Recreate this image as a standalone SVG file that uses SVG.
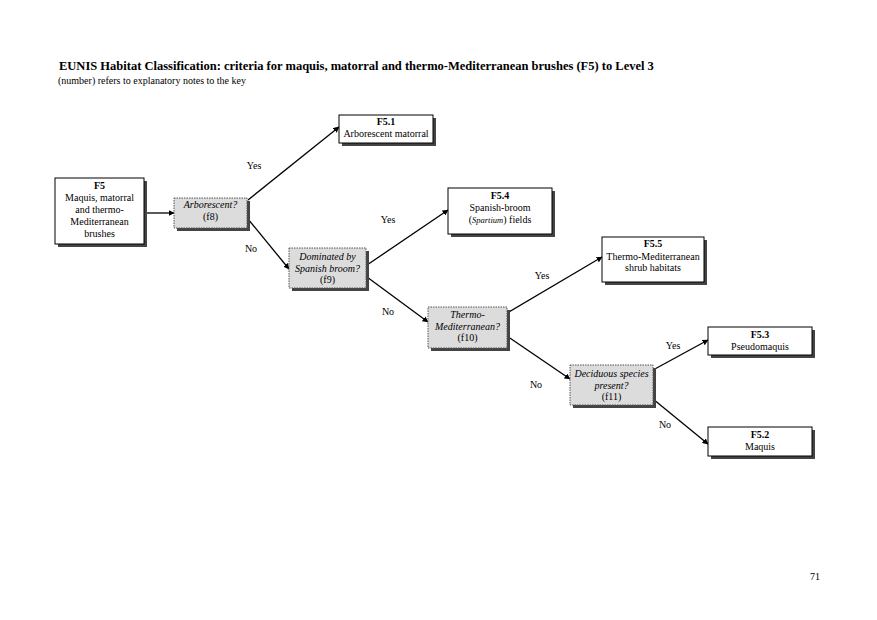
<svg xmlns="http://www.w3.org/2000/svg" width="877" height="620" viewBox="0 0 877 620">
<style>
text{font-family:"Liberation Serif","Times New Roman",serif;fill:#000}
.t{font-size:12.5px;font-weight:bold}
.s{font-size:10px}
.n{font-size:10px;text-anchor:middle}
.b{font-weight:bold}
.i{font-style:italic}
.lbl{font-size:10px;text-anchor:middle}
.box{fill:#fff;stroke:#000;stroke-width:1}
.q{fill:#dcdcdc;stroke:#555;stroke-width:1;stroke-dasharray:1.5 1}
.sh{fill:#444}
.c{stroke:#000;stroke-width:1.3;fill:none;marker-end:url(#a)}
</style>
<defs>
<marker id="a" viewBox="0 0 10 10" refX="9" refY="5" markerWidth="6" markerHeight="6" orient="auto" markerUnits="userSpaceOnUse">
<path d="M0,0 L10,5 L0,10 z" fill="#000"/>
</marker>
</defs>
<text class="t" x="59" y="70">EUNIS Habitat Classification: criteria for maquis, matorral and thermo-Mediterranean brushes (F5) to Level 3</text>
<text class="s" x="58" y="83.5">(number) refers to explanatory notes to the key</text>

<g id="connectors">
<line class="c" x1="147" y1="213" x2="174" y2="213"/>
<line class="c" x1="248" y1="200" x2="339" y2="127"/>
<line class="c" x1="248" y1="219" x2="289" y2="269"/>
<line class="c" x1="367" y1="265" x2="448" y2="210"/>
<line class="c" x1="367" y1="277" x2="428" y2="322"/>
<line class="c" x1="507" y1="313" x2="602" y2="257"/>
<line class="c" x1="507" y1="336" x2="570" y2="379"/>
<line class="c" x1="653" y1="370" x2="708" y2="340"/>
<line class="c" x1="653" y1="399" x2="708" y2="444"/>
<text class="lbl" x="254" y="169">Yes</text>
<text class="lbl" x="251" y="252">No</text>
<text class="lbl" x="388" y="223">Yes</text>
<text class="lbl" x="388" y="315">No</text>
<text class="lbl" x="542" y="279">Yes</text>
<text class="lbl" x="536" y="388">No</text>
<text class="lbl" x="673" y="349">Yes</text>
<text class="lbl" x="665" y="428">No</text>
</g>

<g id="F5">
<rect class="sh" x="58" y="181" width="89" height="66"/>
<rect class="box" x="55" y="178" width="89" height="66"/>
<text class="n b" x="99.5" y="188.5">F5</text>
<text class="n" x="99.5" y="201">Maquis, matorral</text>
<text class="n" x="99.5" y="213">and thermo-</text>
<text class="n" x="99.5" y="225">Mediterranean</text>
<text class="n" x="99.5" y="236.5">brushes</text>
</g>

<g id="q-f8">
<rect class="sh" x="177" y="201" width="73" height="30"/>
<rect class="q" x="174" y="198" width="73" height="30"/>
<text class="n i" x="210.5" y="208">Arborescent?</text>
<text class="n" x="210.5" y="220">(f8)</text>
</g>

<g id="F5.1">
<rect class="sh" x="342" y="118" width="94" height="28"/>
<rect class="box" x="339" y="115" width="94" height="28"/>
<text class="n b" x="386" y="124.5">F5.1</text>
<text class="n" x="386" y="136.5">Arborescent matorral</text>
</g>

<g id="q-f9">
<rect class="sh" x="292" y="251" width="77" height="40"/>
<rect class="q" x="289" y="248" width="77" height="40"/>
<text class="n i" x="327.5" y="259.5">Dominated by</text>
<text class="n i" x="327.5" y="271.5">Spanish broom?</text>
<text class="n" x="327.5" y="282.5">(f9)</text>
</g>

<g id="F5.4">
<rect class="sh" x="451" y="191" width="104" height="46"/>
<rect class="box" x="448" y="188" width="104" height="46"/>
<text class="n b" x="500" y="198.5">F5.4</text>
<text class="n" x="500" y="210.5">Spanish-broom</text>
<text class="n" x="500" y="222.5">(<tspan class="i" font-size="8.5">Spartium</tspan>) fields</text>
</g>

<g id="q-f10">
<rect class="sh" x="431" y="310" width="79" height="41"/>
<rect class="q" x="428" y="307" width="79" height="41"/>
<text class="n i" x="467.5" y="317.5">Thermo-</text>
<text class="n i" x="467.5" y="329.5">Mediterranean?</text>
<text class="n" x="467.5" y="340.5">(f10)</text>
</g>

<g id="F5.5">
<rect class="sh" x="605" y="240" width="102" height="45"/>
<rect class="box" x="602" y="237" width="102" height="45"/>
<text class="n b" x="653" y="246.5">F5.5</text>
<text class="n" x="653" y="259.5">Thermo-Mediterranean</text>
<text class="n" x="653" y="270.5">shrub habitats</text>
</g>

<g id="q-f11">
<rect class="sh" x="573" y="368" width="83" height="40"/>
<rect class="q" x="570" y="365" width="83" height="40"/>
<text class="n i" x="611.5" y="376.5">Deciduous species</text>
<text class="n i" x="611.5" y="388.5">present?</text>
<text class="n" x="611.5" y="399.5">(f11)</text>
</g>

<g id="F5.3">
<rect class="sh" x="711" y="330" width="104" height="28"/>
<rect class="box" x="708" y="327" width="104" height="28"/>
<text class="n b" x="760" y="337.5">F5.3</text>
<text class="n" x="760" y="349.5">Pseudomaquis</text>
</g>

<g id="F5.2">
<rect class="sh" x="711" y="430" width="104" height="29"/>
<rect class="box" x="708" y="427" width="104" height="29"/>
<text class="n b" x="760" y="437.5">F5.2</text>
<text class="n" x="760" y="449.5">Maquis</text>
</g>

<text class="s" x="815" y="580" text-anchor="middle">71</text>
</svg>
